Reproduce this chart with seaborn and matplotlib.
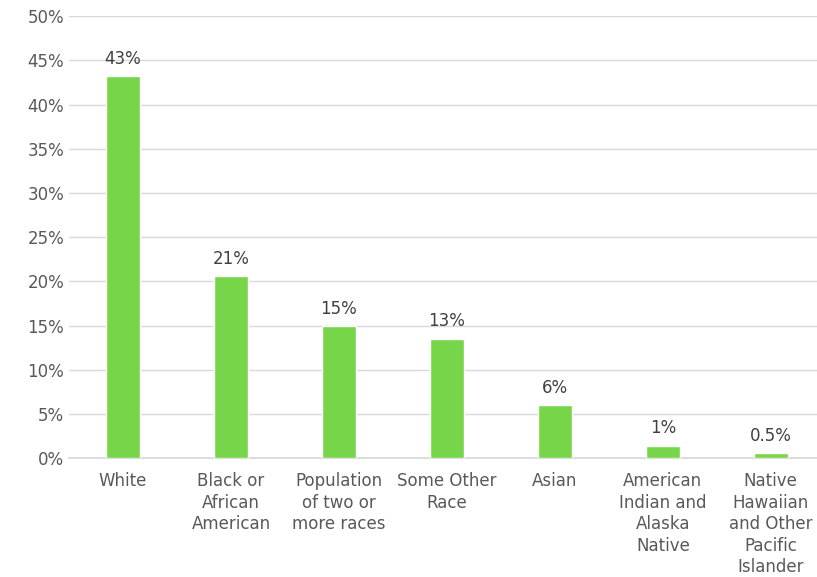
import pandas as pd
import seaborn as sns
import matplotlib.pyplot as plt
from matplotlib.ticker import PercentFormatter

categories = [
    "White",
    "Black or\nAfrican\nAmerican",
    "Population\nof two or\nmore races",
    "Some Other\nRace",
    "Asian",
    "American\nIndian and\nAlaska\nNative",
    "Native\nHawaiian\nand Other\nPacific\nIslander",
]
shares = [43.2, 20.6, 14.9, 13.5, 6.0, 1.4, 0.55]
value_labels = ["43%", "21%", "15%", "13%", "6%", "1%", "0.5%"]

sns.set_theme(style="white")
plt.rcParams["font.family"] = ["DejaVu Sans"]

df = pd.DataFrame({"group": categories, "share": shares})

fig = plt.figure(figsize=(8.17, 5.77), dpi=100)
ax = fig.add_axes([0.0845, 0.206, 0.925, 0.766])
sns.barplot(data=df, x="group", y="share", color="#77D54A", width=0.32,
            saturation=1, ax=ax, zorder=3)

ax.set_ylim(0, 50)
ax.set_yticks(range(0, 51, 5))
ax.yaxis.set_major_formatter(PercentFormatter(decimals=0))
ax.grid(axis="y", color="#d9d9d9", linewidth=1, zorder=0)
ax.set_xlabel("")
ax.set_ylabel("")
for side in ["top", "right", "left"]:
    ax.spines[side].set_visible(False)
ax.spines["bottom"].set_color("#d9d9d9")
ax.tick_params(axis="both", length=0, labelsize=12, labelcolor="#595959")
ax.tick_params(axis="x", pad=10)
for lab in ax.get_xticklabels():
    lab.set_linespacing(1.25)
    lab.set_verticalalignment("top")

for p, txt in zip(ax.patches, value_labels):
    ax.annotate(txt, (p.get_x() + p.get_width() / 2, p.get_height()),
                xytext=(0, 6), textcoords="offset points", ha="center",
                va="bottom", fontsize=12, color="#404040")

fig.savefig("out.png", dpi=100)
